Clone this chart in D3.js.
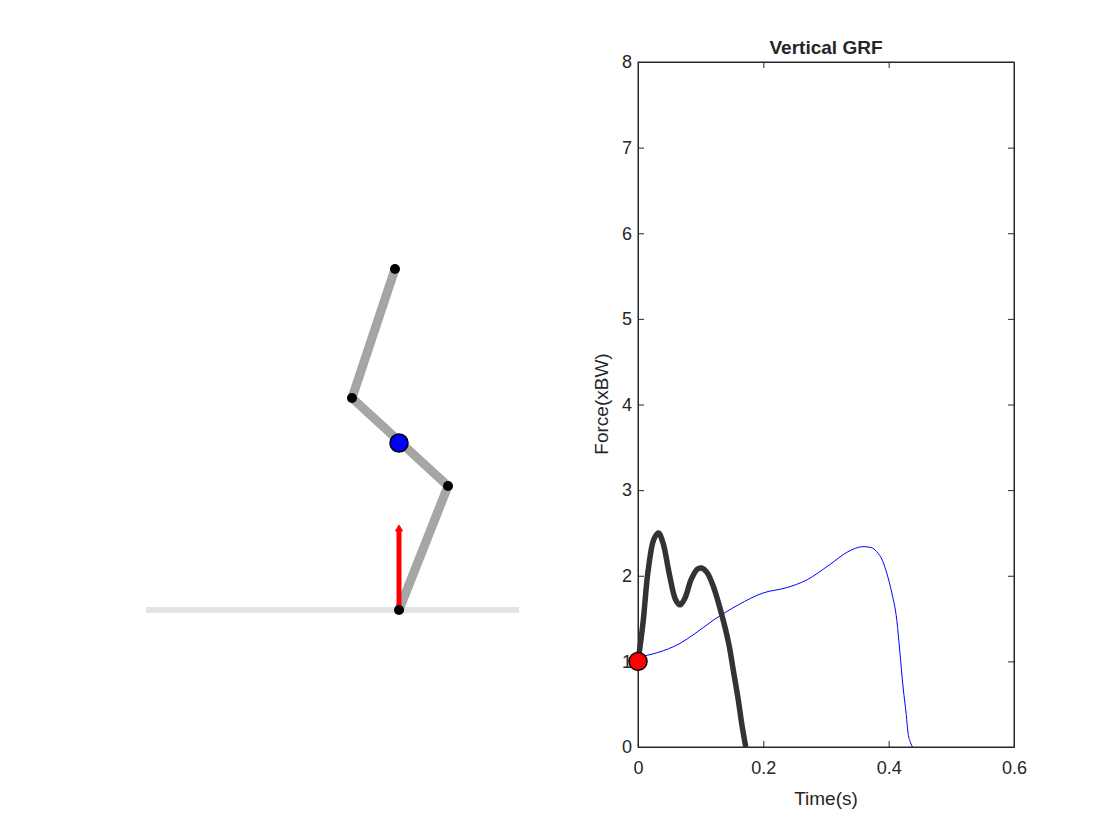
<!DOCTYPE html>
<html>
<head>
<meta charset="utf-8">
<script src="https://cdn.jsdelivr.net/npm/d3@7"></script>
<style>
  body { margin: 0; background: #fff; }
  text { font-family: "Liberation Sans", Arial, sans-serif; fill: #262626; }
</style>
</head>
<body>
<svg id="chart" width="1120" height="840"></svg>
<script>
// vertical GRF samples (time in s, force in xBW)
var sim_t = [0, 0.008, 0.016, 0.025, 0.0325, 0.04, 0.05, 0.06, 0.067, 0.075, 0.085, 0.095, 0.1016, 0.11, 0.12, 0.136, 0.145, 0.152, 0.16, 0.166, 0.172];
var sim_f = [1.0, 1.45, 2.05, 2.42, 2.50, 2.38, 2.02, 1.72, 1.66, 1.74, 1.96, 2.08, 2.09, 2.04, 1.88, 1.48, 1.20, 0.90, 0.55, 0.25, 0.0];
var ref_t = [0, 0.03, 0.067, 0.09, 0.12, 0.16, 0.2, 0.237, 0.269, 0.306, 0.335, 0.359, 0.372, 0.381, 0.39, 0.397, 0.405, 0.413, 0.418, 0.423, 0.428, 0.431, 0.435, 0.438];
var ref_f = [1.05, 1.10, 1.21, 1.32, 1.48, 1.66, 1.80, 1.86, 1.95, 2.13, 2.28, 2.34, 2.33, 2.28, 2.18, 2.03, 1.80, 1.48, 1.10, 0.70, 0.38, 0.16, 0.05, 0.0];
var x_ticks = [0, 0.2, 0.4, 0.6];
var y_ticks = [0, 1, 2, 3, 4, 5, 6, 7, 8];
var marker = [0, 1];

// stick figure joints (model units, ground at y = 0)
var joint_x = [-0.04, -0.47, 0.49, 0.0];
var joint_y = [3.41, 2.12, 1.24, 0.0];
var com = [0.0, 1.67];
var grf_arrow = [0.0, 0.84];
var ground = [-2.53, 1.2];

var svg = d3.select("#chart");

// ---- left panel: stick figure
var sx = d3.scaleLinear().domain([0, 1]).range([399, 499]);
var sy = d3.scaleLinear().domain([0, 1]).range([610, 510]);
var left = svg.append("g");

left.append("line")
  .attr("x1", sx(ground[0])).attr("x2", sx(ground[1]))
  .attr("y1", sy(0)).attr("y2", sy(0))
  .attr("stroke", "#e3e3e3").attr("stroke-width", 6);

var joints = joint_x.map(function(d, i) { return [d, joint_y[i]]; });
left.append("path")
  .attr("d", d3.line().x(d => sx(d[0])).y(d => sy(d[1]))(joints))
  .attr("fill", "none").attr("stroke", "#a6a6a6").attr("stroke-width", 9)
  .attr("stroke-linejoin", "round");

// grf arrow
left.append("line")
  .attr("x1", sx(grf_arrow[0])).attr("x2", sx(grf_arrow[0]))
  .attr("y1", sy(0)).attr("y2", sy(grf_arrow[1]) + 4)
  .attr("stroke", "red").attr("stroke-width", 5);
left.append("path")
  .attr("d", "M" + (sx(grf_arrow[0]) - 3.5) + "," + (sy(grf_arrow[1]) + 5) + "L" + sx(grf_arrow[0]) + "," + (sy(grf_arrow[1]) - 1) + "L" + (sx(grf_arrow[0]) + 3.5) + "," + (sy(grf_arrow[1]) + 5) + "Z")
  .attr("fill", "red").attr("stroke", "red");

left.selectAll("circle.joint").data(joints).enter().append("circle")
  .attr("class", "joint")
  .attr("cx", d => sx(d[0])).attr("cy", d => sy(d[1])).attr("r", 5)
  .attr("fill", "black");

left.append("circle")
  .attr("cx", sx(com[0])).attr("cy", sy(com[1])).attr("r", 9)
  .attr("fill", "blue").attr("stroke", "black").attr("stroke-width", 1.5);

// ---- right panel: GRF plot
var x = d3.scaleLinear().domain([0, 0.6]).range([638, 1014]);
var y = d3.scaleLinear().domain([0, 8]).range([747, 62]);
var right = svg.append("g");

right.append("rect")
  .attr("x", 638).attr("y", 62).attr("width", 1014 - 638).attr("height", 747 - 62)
  .attr("fill", "none").attr("stroke", "#262626").attr("stroke-width", 1);

right.append("g").attr("transform", "translate(0,747)")
  .call(d3.axisBottom(x).tickValues(x_ticks).tickSizeInner(-6).tickSizeOuter(0).tickPadding(14).tickFormat(d3.format("")));
right.append("g").attr("transform", "translate(638,0)")
  .call(d3.axisLeft(y).tickValues(y_ticks).tickSizeInner(-6).tickSizeOuter(0).tickPadding(6));
right.append("g").attr("transform", "translate(0,62)")
  .call(d3.axisTop(x).tickValues(x_ticks).tickSizeInner(-6).tickSizeOuter(0).tickFormat(""));
right.append("g").attr("transform", "translate(1014,0)")
  .call(d3.axisRight(y).tickValues(y_ticks).tickSizeInner(-6).tickSizeOuter(0).tickFormat(""));
right.selectAll(".domain").attr("stroke", "#262626");
right.selectAll(".tick line").attr("stroke", "#262626");
right.selectAll(".tick text").attr("font-size", 18).attr("fill", "#262626")
  .attr("font-family", "Liberation Sans, Arial, sans-serif");

var line = d3.line().curve(d3.curveMonotoneX).x(d => x(d[0])).y(d => y(d[1]));
right.append("path")
  .attr("d", line(ref_t.map((d, i) => [d, ref_f[i]])))
  .attr("fill", "none").attr("stroke", "blue").attr("stroke-width", 1);
right.append("path")
  .attr("d", d3.line().curve(d3.curveCatmullRom).x(d => x(d[0])).y(d => y(d[1]))(sim_t.map((d, i) => [d, sim_f[i]])))
  .attr("fill", "none").attr("stroke", "#333333").attr("stroke-width", 5.5);

right.append("circle")
  .attr("cx", x(marker[0])).attr("cy", y(marker[1])).attr("r", 9)
  .attr("fill", "red").attr("stroke", "black").attr("stroke-width", 1.5);

right.append("text").attr("x", 826).attr("y", 54).attr("text-anchor", "middle")
  .attr("font-size", 19).attr("font-weight", "bold").attr("fill", "#000").text("Vertical GRF");
right.append("text").attr("x", 826).attr("y", 805).attr("text-anchor", "middle")
  .attr("font-size", 19).text("Time(s)");
right.append("text").attr("transform", "translate(608,404) rotate(-90)").attr("text-anchor", "middle")
  .attr("font-size", 19).text("Force(xBW)");
</script>
</body>
</html>
